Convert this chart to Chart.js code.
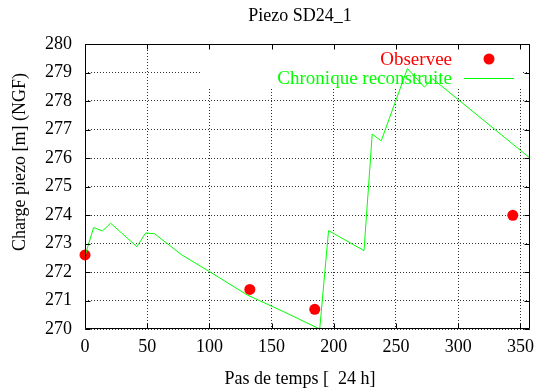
<!DOCTYPE html>
<html>
<head>
<meta charset="utf-8">
<script src="https://cdn.jsdelivr.net/npm/chart.js@4/dist/chart.umd.min.js"></script>
<style>
  html, body { margin: 0; padding: 0; background: #fff; }
  canvas { display: block; }
</style>
</head>
<body>
<canvas id="c" width="541" height="392"></canvas>
<script>
// ---- data ----
const chartTitle = "Piezo SD24_1";
const xLabel = "Pas de temps [  24 h]";
const yLabel = "Charge piezo [m] (NGF)";
const seriesNames = ["Observee", "Chronique reconstruite"];

const obsX = [0, 132.5, 184.7, 343.9];
const obsY = [272.6, 271.39, 270.69, 273.99];

const recX = [0, 6.9, 14, 20.6, 41.7, 48.8, 56, 77.8, 99.8, 130.6, 160, 188.7, 195.8, 224.3, 230.9, 238.1, 259.2, 272.8, 279.5, 357.6];
const recY = [272.56, 273.56, 273.44, 273.71, 272.89, 273.37, 273.34, 272.6, 272.02, 271.19, 270.6, 270.0, 273.45, 272.75, 276.84, 276.6, 279.14, 278.49, 278.78, 276.0];

const xMin = 0, xMax = 358, xStep = 50;
const yMin = 270, yMax = 280, yStep = 1;

const FONT = "'Liberation Serif', 'Times New Roman', serif";

const obsData = obsX.map((x, i) => ({x, y: obsY[i]}));
const recData = recX.map((x, i) => ({x, y: recY[i]}));

// gnuplot-like decorations: opaque key box, inward ticks, border, texts
const gnuplotLook = {
  id: 'gnuplotLook',
  beforeDatasetsDraw(chart) {
    const ctx = chart.ctx;
    ctx.save();
    ctx.fillStyle = '#fff';
    ctx.fillRect(201, 45, 322, 43);
    ctx.restore();
  },
  afterDraw(chart) {
    const ctx = chart.ctx;
    const a = chart.chartArea;
    const xs = chart.scales.x, ys = chart.scales.y;
    ctx.save();
    ctx.strokeStyle = '#000';
    ctx.lineWidth = 1;
    const L = Math.round(a.left) + 0.5, R = Math.round(a.right) - 0.5;
    const T = Math.round(a.top) + 0.5, B = Math.round(a.bottom) - 0.5;
    ctx.beginPath();
    ctx.rect(L, T, R - L, B - T);
    ctx.stroke();
    const tl = 5;
    ctx.beginPath();
    xs.ticks.forEach(t => {
      const px = Math.round(xs.getPixelForValue(t.value)) + 0.5;
      ctx.moveTo(px, B); ctx.lineTo(px, B - tl);
      ctx.moveTo(px, T); ctx.lineTo(px, T + tl);
    });
    ys.ticks.forEach(t => {
      const py = Math.round(ys.getPixelForValue(t.value)) + 0.5;
      ctx.moveTo(L, py); ctx.lineTo(L + tl, py);
      ctx.moveTo(R, py); ctx.lineTo(R - tl, py);
    });
    ctx.stroke();

    // texts
    ctx.font = '18px ' + FONT;
    ctx.fillStyle = '#000';
    ctx.textAlign = 'center';
    ctx.textBaseline = 'middle';
    ctx.fillText(chartTitle, 300, 16);
    ctx.fillText(xLabel, 300, 379);
    ctx.save();
    ctx.translate(20, 162);
    ctx.rotate(-Math.PI / 2);
    ctx.fillText(yLabel, 0, 0);
    ctx.restore();

    // key
    ctx.font = '19px ' + FONT;
    ctx.textAlign = 'right';
    ctx.fillStyle = '#ff0000';
    ctx.fillText(seriesNames[0], 452, 60);
    ctx.beginPath();
    ctx.arc(489, 59, 5.5, 0, Math.PI * 2);
    ctx.fill();
    ctx.fillStyle = '#00ff00';
    ctx.fillText(seriesNames[1], 452, 79);
    ctx.strokeStyle = '#00ff00';
    ctx.beginPath();
    ctx.moveTo(464, 78.5); ctx.lineTo(514, 78.5);
    ctx.stroke();
    ctx.restore();
  }
};

new Chart(document.getElementById('c'), {
  type: 'scatter',
  data: {
    datasets: [
      {
        label: seriesNames[0],
        data: obsData,
        showLine: false,
        backgroundColor: '#ff0000',
        borderColor: '#ff0000',
        pointRadius: 5.5,
        pointBorderWidth: 0,
        order: 1
      },
      {
        label: seriesNames[1],
        data: recData,
        showLine: true,
        borderColor: '#00ff00',
        backgroundColor: '#00ff00',
        borderWidth: 1,
        pointRadius: 0,
        tension: 0,
        order: 0
      }
    ]
  },
  options: {
    responsive: false,
    devicePixelRatio: 1,
    animation: false,
    clip: false,
    layout: { padding: { top: 44, right: 4, left: 0, bottom: 0 } },
    plugins: {
      legend: { display: false },
      title: { display: false },
      tooltip: { enabled: false }
    },
    scales: {
      x: {
        type: 'linear',
        min: xMin, max: xMax,
        afterFit(s) { s.height = 63; },
        border: { display: false, dash: [1, 2] },
        grid: { color: 'rgba(0,0,0,0.8)', lineWidth: 1, drawTicks: false },
        ticks: {
          stepSize: xStep, includeBounds: false, padding: 7,
          color: '#000', font: { family: FONT, size: 18 }, maxRotation: 0
        }
      },
      y: {
        type: 'linear',
        min: yMin, max: yMax,
        afterFit(s) { s.width = 85; },
        border: { display: false, dash: [1, 2] },
        grid: { color: 'rgba(0,0,0,0.8)', lineWidth: 1, drawTicks: false },
        ticks: {
          stepSize: yStep, padding: 13,
          color: '#000', font: { family: FONT, size: 18 }
        }
      }
    }
  },
  plugins: [gnuplotLook]
});
</script>
</body>
</html>
